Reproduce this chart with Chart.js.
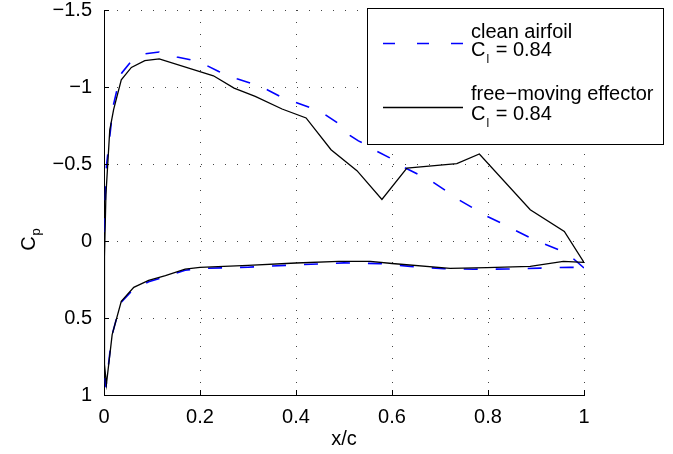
<!DOCTYPE html>
<html><head><meta charset="utf-8">
<script src="https://cdn.jsdelivr.net/npm/chart.js@4.4.1/dist/chart.umd.min.js"></script>
<style>html,body{margin:0;padding:0;background:#fff}#wrap{width:673px;height:454px;position:relative}</style>
</head><body><div id="wrap"><canvas id="c" width="673" height="454"></canvas></div>
<script>
// clean airfoil: path from trailing edge along upper surface to leading edge, then lower surface back
const cleanX = [1.0,0.976,0.947,0.917,0.885,0.857,0.827,0.798,0.769,0.739,0.711,0.683,0.652,0.628,0.596,0.569,0.55,0.53,0.513,0.497,0.485,0.461,0.426,0.399,0.367,0.34,0.305,0.277,0.239,0.215,0.18,0.152,0.115,0.086,0.055,0.037,0.027,0.019,0.005,0.0,0.0,0.004,0.016,0.035,0.062,0.093,0.128,0.169,0.2,0.3,0.4,0.5,0.576,0.638,0.708,0.77,0.84,0.909,0.971,1.0];
const cleanCp = [0.175,0.11,0.056,0.019,-0.026,-0.069,-0.117,-0.16,-0.214,-0.268,-0.329,-0.387,-0.437,-0.474,-0.539,-0.582,-0.62,-0.65,-0.684,-0.74,-0.77,-0.82,-0.87,-0.9,-0.939,-0.982,-1.026,-1.054,-1.101,-1.138,-1.177,-1.195,-1.227,-1.216,-1.16,-1.091,-0.982,-0.874,-0.484,0.0,0.8,0.95,0.62,0.4,0.31,0.265,0.232,0.19,0.178,0.17,0.155,0.142,0.147,0.165,0.18,0.183,0.182,0.176,0.17,0.175];
// free-moving effector
const effX = [1.0,0.959,0.888,0.782,0.735,0.631,0.579,0.527,0.473,0.421,0.371,0.315,0.271,0.228,0.115,0.085,0.057,0.036,0.02,0.012,0.004,0.001,0.001,0.005,0.017,0.036,0.062,0.093,0.128,0.169,0.2,0.3,0.4,0.489,0.555,0.6,0.721,0.798,0.888,0.957,1.0];
const effCp = [0.139,-0.062,-0.203,-0.565,-0.502,-0.474,-0.27,-0.457,-0.593,-0.799,-0.857,-0.939,-0.993,-1.073,-1.182,-1.171,-1.127,-1.047,-0.853,-0.72,-0.3,0.1,0.8,0.93,0.608,0.392,0.301,0.256,0.225,0.182,0.171,0.158,0.143,0.132,0.132,0.146,0.178,0.173,0.165,0.132,0.139];

const seriesNames = ['clean airfoil', 'free\u2212moving effector'];
const liftCoeff = ['0.84', '0.84'];
const xTicks = [0, 0.2, 0.4, 0.6, 0.8, 1];
const xTickLabels = ['0', '0.2', '0.4', '0.6', '0.8', '1'];
const yTicks = [-1.5, -1, -0.5, 0, 0.5, 1];
const yTickLabels = ['\u22121.5', '\u22121', '\u22120.5', '0', '0.5', '1'];
const xTitle = 'x/c';
const yTitle = ['C', 'p'];

const FONT = 'Liberation Sans';
const pts = (xs, ys) => xs.map((x, i) => ({x: x, y: ys[i]}));

const decor = {
  id: 'decor',
  afterDraw(chart) {
    const ctx = chart.ctx;
    const xs = chart.scales.x, ys = chart.scales.y;
    const ca = chart.chartArea;
    ctx.save();
    // inward ticks
    ctx.strokeStyle = '#000'; ctx.lineWidth = 1;
    ctx.beginPath();
    xTicks.forEach(v => { const p = Math.round(xs.getPixelForValue(v)) + 0.5; ctx.moveTo(p, ca.bottom); ctx.lineTo(p, ca.bottom - 5); });
    yTicks.forEach(v => { const p = Math.round(ys.getPixelForValue(v)) + 0.5; ctx.moveTo(ca.left, p); ctx.lineTo(ca.left + 5, p); });
    ctx.stroke();
    // x title
    ctx.fillStyle = '#000';
    ctx.font = '20px "' + FONT + '"';
    ctx.textAlign = 'center'; ctx.textBaseline = 'alphabetic';
    ctx.fillText(xTitle, (ca.left + ca.right) / 2, 445);
    // y title with subscript
    ctx.save();
    ctx.translate(35, 240);
    ctx.rotate(-Math.PI / 2);
    ctx.textAlign = 'left';
    ctx.font = '20px "' + FONT + '"';
    const wC = ctx.measureText(yTitle[0]).width;
    ctx.font = '13px "' + FONT + '"';
    const wp = ctx.measureText(yTitle[1]).width;
    const x0 = -(wC + wp) / 2;
    ctx.font = '20px "' + FONT + '"';
    ctx.fillText(yTitle[0], x0, 0);
    ctx.font = '13px "' + FONT + '"';
    ctx.fillText(yTitle[1], x0 + wC + 1, 5);
    ctx.restore();
    // legend
    const L = 367.5, T = 8.5, R = 663.5, B = 144.5;
    ctx.fillStyle = '#fff';
    ctx.fillRect(L, T, R - L, B - T);
    ctx.strokeStyle = '#000'; ctx.lineWidth = 1;
    ctx.strokeRect(L, T, R - L, B - T);
    const entries = [
      {color: '#0000ff', dash: [12, 22], width: 1.5, lineY: 43.5, base1: 38, base2: 56, name: seriesNames[0], cl: liftCoeff[0]},
      {color: '#000000', dash: [], width: 1.3, lineY: 107.5, base1: 100, base2: 120, name: seriesNames[1], cl: liftCoeff[1]}
    ];
    entries.forEach(e => {
      ctx.beginPath();
      ctx.setLineDash(e.dash);
      ctx.strokeStyle = e.color; ctx.lineWidth = e.width;
      ctx.moveTo(383, e.lineY); ctx.lineTo(463, e.lineY);
      ctx.stroke();
      ctx.setLineDash([]);
      ctx.fillStyle = '#000';
      ctx.textAlign = 'left'; ctx.textBaseline = 'alphabetic';
      ctx.font = '20px "' + FONT + '"';
      ctx.fillText(e.name, 471, e.base1);
      ctx.fillText('C', 471, e.base2);
      const w = ctx.measureText('C').width;
      ctx.font = '12px "' + FONT + '"';
      ctx.fillText('l', 471 + w + 1, e.base2 + 7);
      const ws = ctx.measureText('l').width;
      ctx.font = '20px "' + FONT + '"';
      ctx.fillText(' = ' + e.cl, 471 + w + 1 + ws + 1, e.base2);
    });
    ctx.restore();
  }
};

new Chart(document.getElementById('c').getContext('2d'), {
  type: 'scatter',
  data: {
    datasets: [
      {label: seriesNames[1], data: pts(effX, effCp), showLine: true, borderColor: '#000000', borderWidth: 1.3, pointRadius: 0, pointHoverRadius: 0, order: 0, tension: 0},
      {label: seriesNames[0], data: pts(cleanX, cleanCp), showLine: true, borderColor: '#0000ff', borderWidth: 1.6, borderDash: [14, 18], pointRadius: 0, pointHoverRadius: 0, order: 1, tension: 0}
    ]
  },
  options: {
    responsive: false, animation: false, devicePixelRatio: 1,
    layout: {padding: {top: 10, right: 89, bottom: 0, left: 0}},
    plugins: {legend: {display: false}, tooltip: {enabled: false}, title: {display: false}},
    scales: {
      x: {
        type: 'linear', min: 0, max: 1,
        afterBuildTicks: s => { s.ticks = xTicks.map(v => ({value: v})); },
        ticks: {callback: (v, i) => xTickLabels[i], font: {family: FONT, size: 20}, color: '#000', padding: 10, maxRotation: 0, autoSkip: false},
        grid: {color: '#444', lineWidth: 1, drawTicks: false, borderDash: [1, 11]},
        border: {display: true, color: '#000', width: 1, dash: [1, 11]},
        afterFit: s => { s.height = 454 - 395; s.paddingLeft = 0; s.paddingRight = 0; }
      },
      y: {
        type: 'linear', reverse: true, min: -1.5, max: 1,
        afterBuildTicks: s => { s.ticks = yTicks.map(v => ({value: v})); },
        ticks: {callback: (v, i) => yTickLabels[i], font: {family: FONT, size: 20}, color: '#000', padding: 12, autoSkip: false},
        grid: {color: '#444', lineWidth: 1, drawTicks: false, borderDash: [1, 11]},
        border: {display: true, color: '#000', width: 1, dash: [1, 11]},
        afterFit: s => { s.width = 104; s.paddingTop = 0; s.paddingBottom = 0; }
      }
    }
  },
  plugins: [decor]
});
</script>
</body></html>
